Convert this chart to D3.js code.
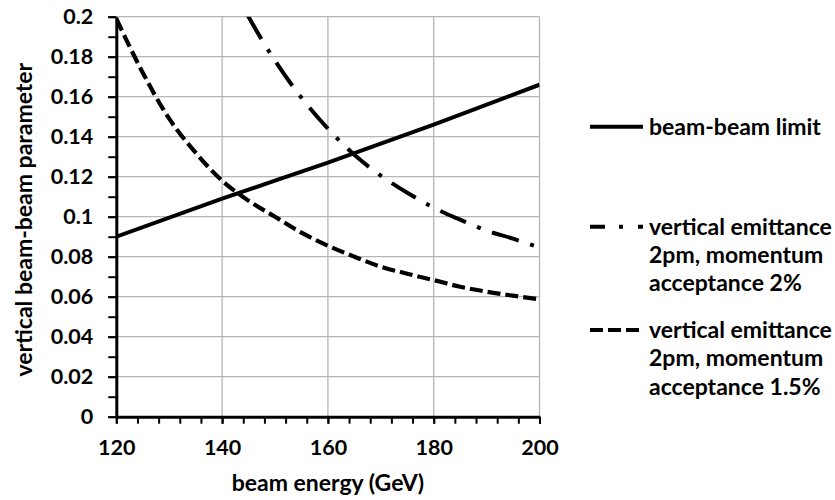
<!DOCTYPE html>
<html>
<head>
<meta charset="utf-8">
<script src="https://cdn.jsdelivr.net/npm/d3@7"></script>
<style>
  body { margin: 0; background: #fff; }
  text { font-family: "Lato", "Open Sans", sans-serif; font-weight: bold; fill: #000; }
</style>
</head>
<body>
<div id="chart"></div>
<script>
// data
const limitE = [120, 140, 160, 180, 200];
const limitVal = [0.09, 0.109, 0.127, 0.146, 0.166];

const acc2E = [140, 145, 150, 155, 160, 165, 170, 175, 180, 185, 190, 195, 200];
const acc2Val = [0.226, 0.2, 0.178, 0.1595, 0.144, 0.131, 0.1205, 0.112, 0.1045, 0.0985, 0.093, 0.089, 0.0845];

const acc15E = [120, 125, 130, 135, 140, 145, 150, 155, 160, 165, 170, 175, 180, 185, 190, 195, 200];
const acc15Val = [0.199, 0.172, 0.149, 0.132, 0.118, 0.108, 0.1, 0.092, 0.0855, 0.08, 0.075, 0.0715, 0.0683, 0.065, 0.0625, 0.0605, 0.0587];

const xTicks = [120, 140, 160, 180, 200];
const xTickLabels = ["120", "140", "160", "180", "200"];
const yTicks = [0, 0.02, 0.04, 0.06, 0.08, 0.1, 0.12, 0.14, 0.16, 0.18, 0.2];
const yTickLabels = ["0", "0.02", "0.04", "0.06", "0.08", "0.1", "0.12", "0.14", "0.16", "0.18", "0.2"];

const legendLabels = [
  ["beam-beam limit"],
  ["vertical emittance", "2pm, momentum", "acceptance 2%"],
  ["vertical emittance", "2pm, momentum", "acceptance 1.5%"]
];

const width = 835, height = 500;
const margin = { top: 16.7, right: 295.5, bottom: 83.3, left: 116.3 };
const w = width - margin.left - margin.right;
const h = height - margin.top - margin.bottom;

const svg = d3.select("#chart").append("svg")
  .attr("width", width)
  .attr("height", height);

const g = svg.append("g")
  .attr("transform", `translate(${margin.left},${margin.top})`);

const x = d3.scaleLinear().domain([120, 200]).range([0, w]);
const y = d3.scaleLinear().domain([0, 0.2]).range([h, 0]);

// gridlines
g.selectAll(".ygrid")
  .data(yTicks.slice(1))
  .join("line")
  .attr("x1", 0).attr("x2", w)
  .attr("y1", d => y(d)).attr("y2", d => y(d))
  .attr("stroke", "#b5b5b5")
  .attr("stroke-width", 1.3);

g.selectAll(".xgrid")
  .data(xTicks.slice(1))
  .join("line")
  .attr("x1", d => x(d)).attr("x2", d => x(d))
  .attr("y1", 0).attr("y2", h)
  .attr("stroke", "#b5b5b5")
  .attr("stroke-width", 1.3);

// clip the curves to the plot area
svg.append("defs").append("clipPath").attr("id", "plotclip")
  .append("rect").attr("x", 0).attr("y", 0).attr("width", w).attr("height", h);

const line = d3.line()
  .x(d => x(d[0]))
  .y(d => y(d[1]))
  .curve(d3.curveMonotoneX);

const curves = g.append("g").attr("clip-path", "url(#plotclip)");

curves.append("path")
  .datum(d3.zip(acc15E, acc15Val))
  .attr("d", line)
  .attr("fill", "none")
  .attr("stroke", "#000")
  .attr("stroke-width", 4.2)
  .attr("stroke-dasharray", "13,5");

curves.append("path")
  .datum(d3.zip(acc2E, acc2Val))
  .attr("d", line)
  .attr("fill", "none")
  .attr("stroke", "#000")
  .attr("stroke-width", 4)
  .attr("stroke-dasharray", "28,12,4,12");

curves.append("path")
  .datum(d3.zip(limitE, limitVal))
  .attr("d", line)
  .attr("fill", "none")
  .attr("stroke", "#000")
  .attr("stroke-width", 4);

// axes
g.append("g")
  .attr("transform", `translate(0,${h})`)
  .call(d3.axisBottom(x)
    .tickValues(xTicks)
    .tickFormat((d, i) => xTickLabels[i])
    .tickSize(7)
    .tickSizeOuter(0)
    .tickPadding(16));

// minor ticks every 4 GeV
g.append("g")
  .attr("transform", `translate(0,${h})`)
  .call(d3.axisBottom(x)
    .tickValues(d3.range(120, 201, 4))
    .tickFormat("")
    .tickSize(7)
    .tickSizeOuter(0))
  .call(a => a.select(".domain").remove());

g.append("g")
  .call(d3.axisLeft(y)
    .tickValues(yTicks)
    .tickFormat((d, i) => yTickLabels[i])
    .tickSize(8)
    .tickSizeOuter(0)
    .tickPadding(15));

g.append("g")
  .call(d3.axisLeft(y)
    .tickValues(d3.range(0, 0.2001, 0.01))
    .tickFormat("")
    .tickSize(8)
    .tickSizeOuter(0))
  .call(a => a.select(".domain").remove());

g.selectAll(".tick line").attr("stroke", "#000").attr("stroke-width", 2);
g.selectAll(".domain").attr("stroke", "#000").attr("stroke-width", 3);
g.selectAll(".tick text")
  .style("font-family", "Lato, sans-serif")
  .style("font-weight", "bold")
  .style("font-size", "21.5px")
  .attr("fill", "#000");

// axis titles
svg.append("text")
  .attr("transform", `translate(31.5,${margin.top + h / 2 + 3}) rotate(-90)`)
  .attr("text-anchor", "middle")
  .style("font-size", "23px")
  .text("vertical beam-beam parameter");

svg.append("text")
  .attr("x", margin.left + w / 2)
  .attr("y", 491)
  .attr("text-anchor", "middle")
  .style("font-size", "23px")
  .text("beam energy (GeV)");

// legend
const legendY = [126.7, 226.7, 330];
const legendDash = [null, "15,14,4,15,10", "13,5"];
const lineH = 28.4;

const legend = svg.append("g");
legendLabels.forEach((lines, i) => {
  const item = legend.append("g").attr("transform", `translate(590,${legendY[i]})`);
  item.append("line")
    .attr("x1", 0).attr("x2", 53)
    .attr("y1", 0).attr("y2", 0)
    .attr("stroke", "#000")
    .attr("stroke-width", 4)
    .attr("stroke-dasharray", legendDash[i]);
  item.selectAll("text")
    .data(lines)
    .join("text")
    .attr("x", 59)
    .attr("y", (d, j) => 8 + j * lineH)
    .style("font-size", "23px")
    .text(d => d);
});
</script>
</body>
</html>
